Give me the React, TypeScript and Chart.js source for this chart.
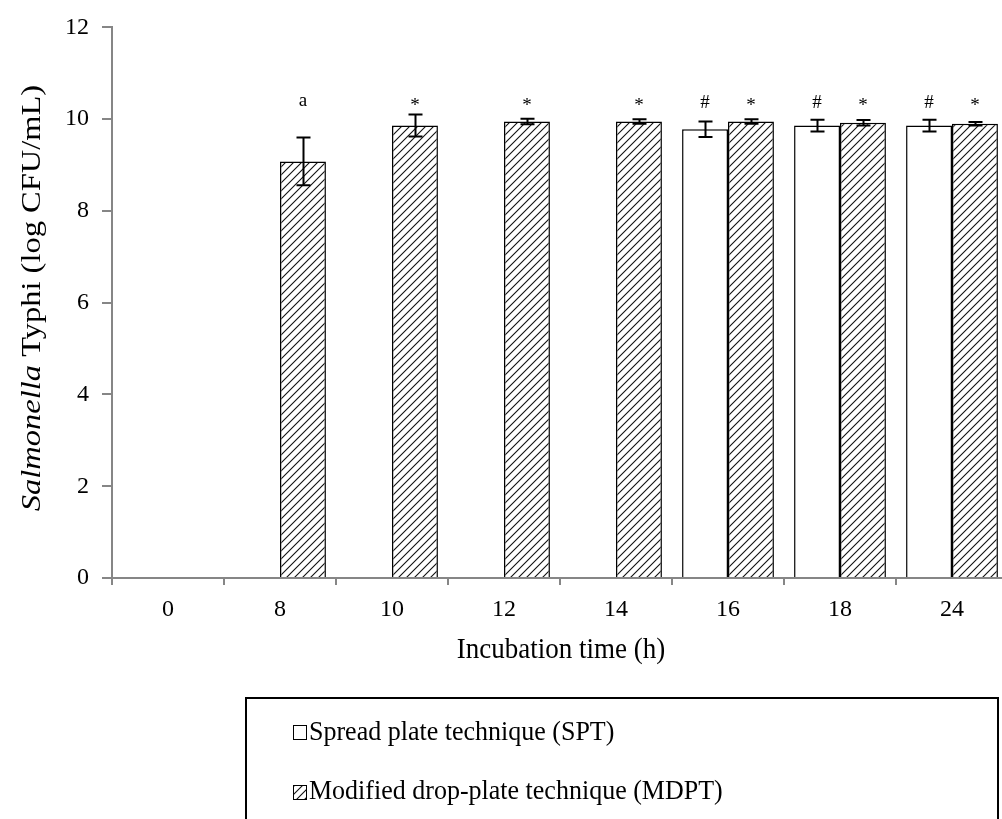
import React, { useEffect, useRef } from "react";
import { Chart, registerables } from "chart.js";

Chart.register(...registerables);

// ---- data ----
const categories = ["0", "8", "10", "12", "14", "16", "18", "24"];
const sptValues = [null, null, null, null, null, 9.78, 9.86, 9.86];
const sptErrors = [null, null, null, null, null, 0.17, 0.13, 0.13];
const mdptValues = [null, 9.08, 9.86, 9.95, 9.95, 9.95, 9.92, 9.9];
const mdptErrors = [null, 0.52, 0.24, 0.06, 0.05, 0.05, 0.06, 0.04];
const sptMarks = ["", "", "", "", "", "#", "#", "#"];
const mdptMarks = ["", "a", "*", "*", "*", "*", "*", "*"];
const markLevel = 10.38;
const yMin = 0;
const yMax = 12;
const yStep = 2;
const seriesLabels = ["Spread plate technique (SPT)", "Modified drop-plate technique (MDPT)"];
const xTitle = "Incubation time (h)";
const yTitleItalic = "Salmonella";
const yTitleRest = " Typhi (log CFU/mL)";

const SERIF = "'Liberation Serif', 'Times New Roman', serif";
const AXIS_GRAY = "#868686";

function makeHatch(): CanvasPattern | string {
  const c = document.createElement("canvas");
  c.width = 8;
  c.height = 8;
  const g = c.getContext("2d");
  if (!g) return "#fff";
  g.fillStyle = "#fff";
  g.fillRect(0, 0, 8, 8);
  g.strokeStyle = "#111";
  g.lineWidth = 1.1;
  g.beginPath();
  g.moveTo(-1, 9);
  g.lineTo(9, -1);
  g.moveTo(-1, 1);
  g.lineTo(1, -1);
  g.moveTo(7, 9);
  g.lineTo(9, 7);
  g.stroke();
  const p = g.createPattern(c, "repeat");
  return p || "#fff";
}

export default function App() {
  const ref = useRef<HTMLCanvasElement | null>(null);

  useEffect(() => {
    const canvas = ref.current;
    if (!canvas) return;
    const hatch = makeHatch();
    const errs = [sptErrors, mdptErrors];
    const marks = [sptMarks, mdptMarks];

    const overlay = {
      id: "overlay",
      afterDatasetsDraw(chart: any) {
        const ctx = chart.ctx as CanvasRenderingContext2D;
        const ys = chart.scales.y;
        ctx.save();
        // error bars
        for (let d = 0; d < 2; d++) {
          const meta = chart.getDatasetMeta(d);
          const vals = chart.data.datasets[d].data as (number | null)[];
          meta.data.forEach((el: any, j: number) => {
            const v = vals[j];
            const e = errs[d][j];
            if (v == null || e == null) return;
            const x = Math.round(el.x) + 0.5;
            const yt = ys.getPixelForValue(v + e);
            const yb = ys.getPixelForValue(v - e);
            ctx.strokeStyle = "#000";
            ctx.lineWidth = 2;
            ctx.beginPath();
            ctx.moveTo(x, yt);
            ctx.lineTo(x, yb);
            ctx.moveTo(x - 7, yt);
            ctx.lineTo(x + 7, yt);
            ctx.moveTo(x - 7, yb);
            ctx.lineTo(x + 7, yb);
            ctx.stroke();
          });
        }
        // significance marks (glyph centred on the mark level)
        ctx.fillStyle = "#000";
        ctx.font = `19px ${SERIF}`;
        ctx.textAlign = "center";
        ctx.textBaseline = "alphabetic";
        const cy = ys.getPixelForValue(markLevel);
        for (let d = 0; d < 2; d++) {
          const meta = chart.getDatasetMeta(d);
          meta.data.forEach((el: any, j: number) => {
            const m = marks[d][j];
            if (!m) return;
            const tm = ctx.measureText(m);
            const asc = tm.actualBoundingBoxAscent || 9;
            const desc = tm.actualBoundingBoxDescent || 0;
            ctx.fillText(m, el.x, cy + (asc - desc) / 2);
          });
        }
        ctx.restore();
      },
      afterDraw(chart: any) {
        const ctx = chart.ctx as CanvasRenderingContext2D;
        ctx.save();
        ctx.fillStyle = "#000";
        // x title
        ctx.save();
        ctx.font = `27px ${SERIF}`;
        ctx.textAlign = "center";
        ctx.textBaseline = "alphabetic";
        ctx.translate(561, 658);
        ctx.scale(1, 1.08);
        ctx.fillText(xTitle, 0, 0);
        ctx.restore();
        // y title (mixed italic)
        ctx.save();
        ctx.translate(40, 298);
        ctx.rotate(-Math.PI / 2);
        ctx.scale(1.16, 1);
        ctx.textBaseline = "alphabetic";
        ctx.textAlign = "left";
        ctx.font = `italic 28px ${SERIF}`;
        const w1 = ctx.measureText(yTitleItalic).width;
        ctx.font = `28px ${SERIF}`;
        const w2 = ctx.measureText(yTitleRest).width;
        const start = -(w1 + w2) / 2;
        ctx.font = `italic 28px ${SERIF}`;
        ctx.fillText(yTitleItalic, start, 0);
        ctx.font = `28px ${SERIF}`;
        ctx.fillText(yTitleRest, start + w1, 0);
        ctx.restore();
        // legend
        ctx.strokeStyle = "#000";
        ctx.lineWidth = 2;
        ctx.strokeRect(246, 698, 752, 140);
        ctx.lineWidth = 1;
        ctx.fillStyle = "#fff";
        ctx.fillRect(293.5, 725.5, 13, 14);
        ctx.strokeRect(293.5, 725.5, 13, 14);
        ctx.fillStyle = hatch as any;
        ctx.fillRect(293.5, 785.5, 13, 14);
        ctx.strokeRect(293.5, 785.5, 13, 14);
        ctx.fillStyle = "#000";
        ctx.font = `26px ${SERIF}`;
        ctx.textAlign = "left";
        ctx.textBaseline = "alphabetic";
        ctx.save();
        ctx.translate(309, 740);
        ctx.scale(1, 1.06);
        ctx.fillText(seriesLabels[0], 0, 0);
        ctx.restore();
        ctx.save();
        ctx.translate(309, 799);
        ctx.scale(1, 1.06);
        ctx.fillText(seriesLabels[1], 0, 0);
        ctx.restore();
        ctx.restore();
      },
    };

    const chart = new Chart(canvas, {
      type: "bar",
      data: {
        labels: categories,
        datasets: [
          {
            label: seriesLabels[0],
            data: sptValues as any,
            backgroundColor: "#ffffff",
            borderColor: "#000000",
            borderWidth: 1.5,
            barPercentage: 1.0,
            categoryPercentage: 0.82,
          },
          {
            label: seriesLabels[1],
            data: mdptValues as any,
            backgroundColor: hatch as any,
            borderColor: "#000000",
            borderWidth: 1.5,
            barPercentage: 1.0,
            categoryPercentage: 0.82,
          },
        ],
      },
      options: {
        animation: false,
        responsive: false,
        devicePixelRatio: 1,
        layout: { padding: { left: 0, right: 0, top: 25, bottom: 0 } },
        plugins: {
          legend: { display: false },
          tooltip: { enabled: false },
          title: { display: false },
        },
        scales: {
          x: {
            type: "category",
            offset: true,
            grid: {
              offset: true,
              drawOnChartArea: false,
              drawTicks: true,
              tickLength: 7,
              color: AXIS_GRAY,
              lineWidth: 2,
            },
            border: { display: true, color: AXIS_GRAY, width: 2 },
            ticks: {
              color: "#000",
              font: { family: SERIF, size: 24 },
              padding: 10,
              maxRotation: 0,
            },
            afterFit(scale: any) {
              scale.height = 241;
            },
          },
          y: {
            min: yMin,
            max: yMax,
            grid: {
              drawOnChartArea: false,
              drawTicks: true,
              tickLength: 10,
              color: AXIS_GRAY,
              lineWidth: 2,
            },
            border: { display: true, color: AXIS_GRAY, width: 2 },
            ticks: {
              stepSize: yStep,
              color: "#000",
              font: { family: SERIF, size: 24 },
              padding: 13,
            },
            afterFit(scale: any) {
              scale.width = 112;
            },
          },
        },
      },
      plugins: [overlay],
    });

    return () => chart.destroy();
  }, []);

  return (
    <div
      style={{
        position: "absolute",
        left: 0,
        top: 0,
        width: 1002,
        height: 819,
        overflow: "hidden",
        background: "#fff",
      }}
    >
      <canvas ref={ref} width={1008} height={819} style={{ display: "block", width: 1008, height: 819 }} />
    </div>
  );
}
